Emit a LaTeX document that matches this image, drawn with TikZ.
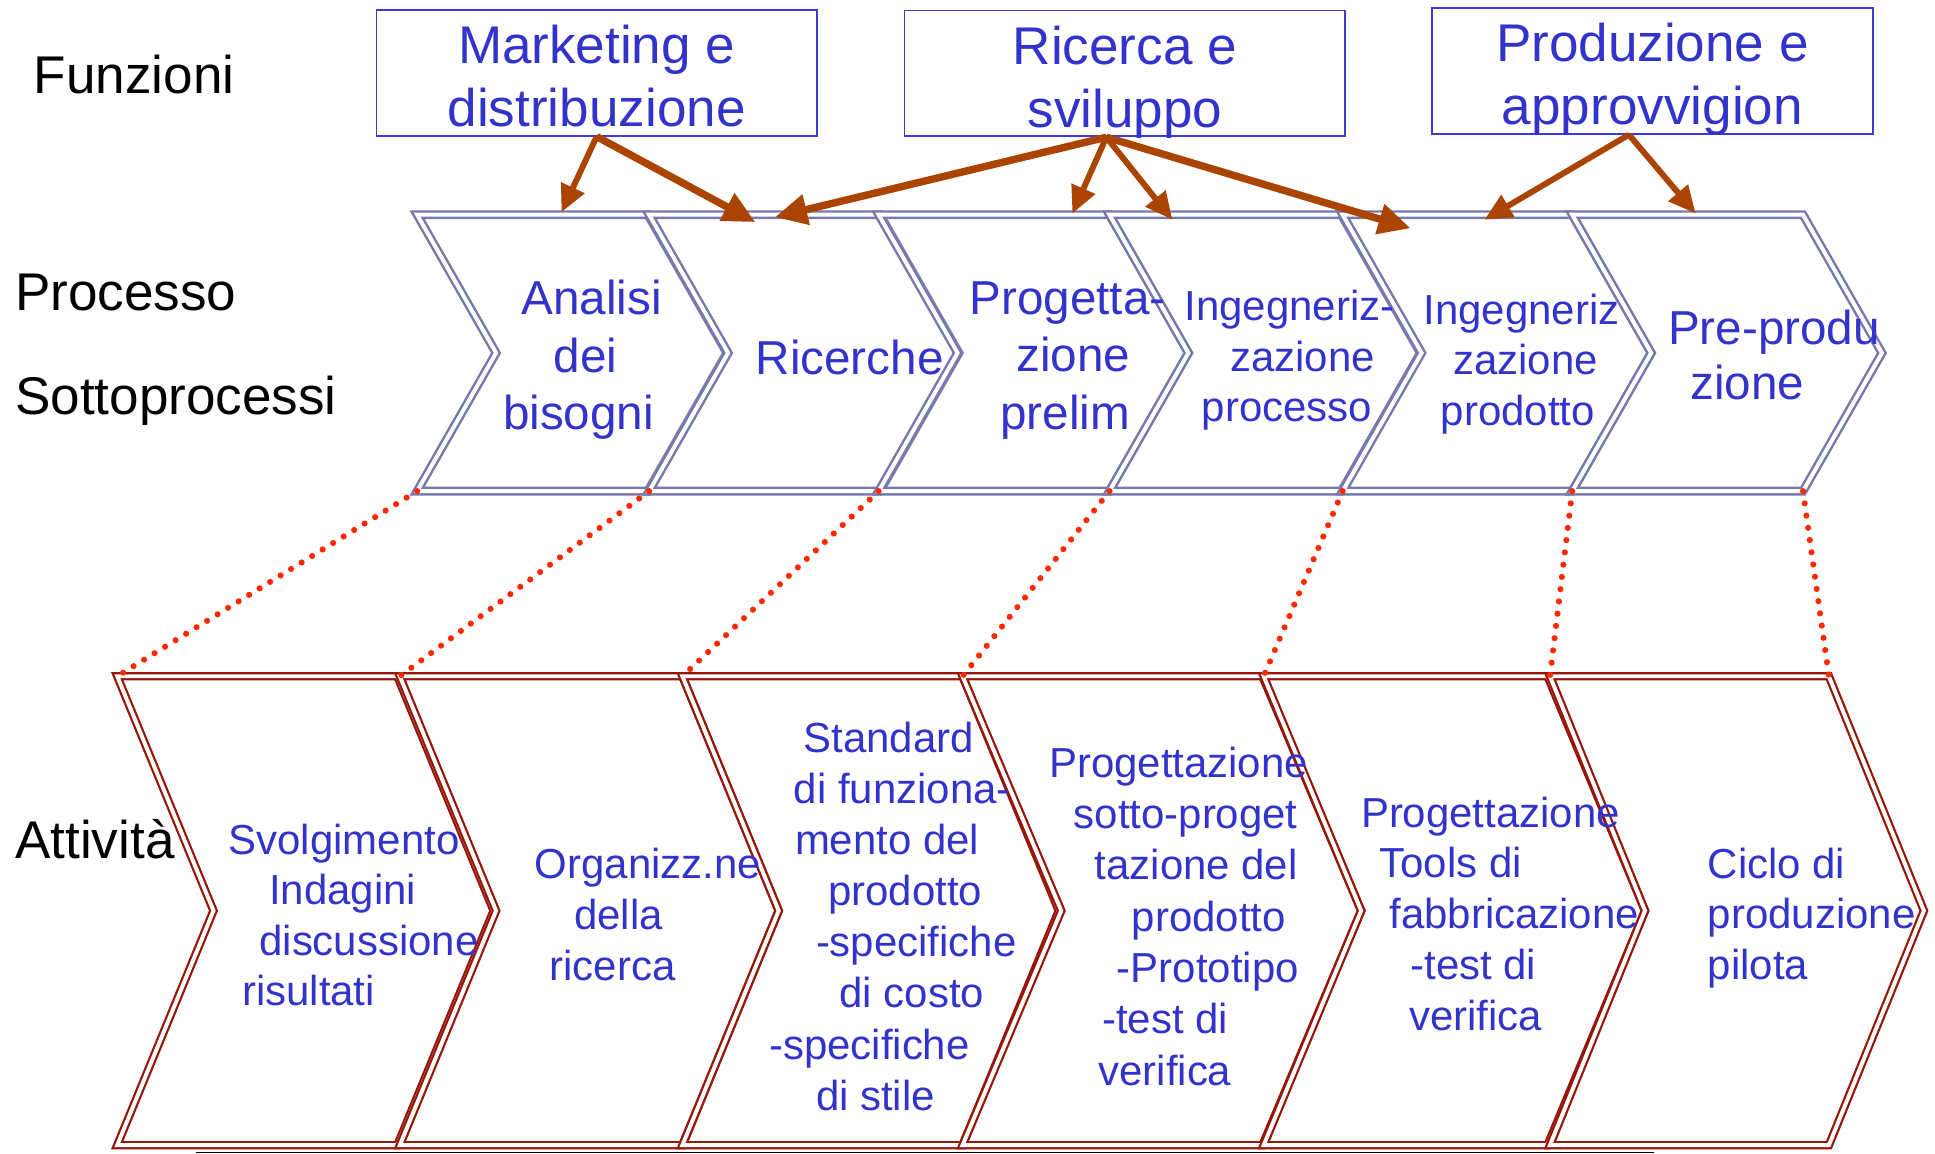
\documentclass[tikz,border=0pt]{standalone}
\usepackage{fontspec}
\setmainfont{Liberation Sans}
\usetikzlibrary{arrows.meta}
\definecolor{testo}{RGB}{51,51,204}
\definecolor{bordo}{RGB}{60,60,220}
\definecolor{grigioblu}{RGB}{120,122,172}
\definecolor{rossoatt}{RGB}{150,22,10}
\definecolor{marrone}{RGB}{170,68,0}
\definecolor{punti}{RGB}{255,40,0}

\newcommand{\chevr}[7]{%
  \coordinate (#1-tl) at (#3,#6);
  \coordinate (#1-tr) at (#3+#4,#6);
  \coordinate (#1-br) at (#3+#4,#7);
  \coordinate (#1-bl) at (#3,#7);
  \draw[#2] (#1-tl) -- (#1-tr) -- (#3+#4+#5,{(#6+#7)/2}) -- (#1-br) -- (#1-bl) -- (#3+#5,{(#6+#7)/2}) -- cycle;
}

\begin{document}
\begin{tikzpicture}[x=0.5pt,y=-0.5pt]\tikzstyle{every node}+=[inner sep=0pt]
  \tikzstyle{funz}=[draw=bordo, line width=0.7pt, minimum width=178.5pt, minimum height=51pt]
  \tikzstyle{funztxt}=[text=testo, align=center, font=\fontsize{21.5}{25.5}\selectfont]
  \tikzstyle{etich}=[anchor=west, font=\fontsize{21.5}{25}\selectfont]
  \tikzstyle{procline}=[draw=grigioblu, line width=1pt, double=white, double distance=1.6pt]
  \tikzstyle{attline}=[draw=rossoatt, line width=0.9pt, double=white, double distance=1.6pt]
  \tikzstyle{txt}=[text=testo, align=left]
  \tikzstyle{fr}=[draw=marrone, line width=2.4pt, -{Triangle[length=11pt,width=10pt]}]
  \tikzstyle{frg}=[fr, line width=3pt, -{Triangle[length=13pt,width=12pt]}]
  \tikzstyle{puntini}=[draw=punti, line width=2.5pt, line cap=round, dash pattern=on 0pt off 5pt]
  \useasboundingbox (0,0) rectangle (1568,935);

  \node[etich] (funzioni) at (27,60) {Funzioni};
  \node[etich] (processo) at (12,237) {Processo};
  \node[etich] (sottoproc) at (12,325) {Sottoprocessi};
  \node[etich] (attivita) at (12,680) {Attività};

  \node[funz] (mkt) at (483.5,59) {};
  \node[funz] (ric) at (911.5,59.5) {};
  \node[funz] (prod) at (1339,57.5) {};
  \node[funztxt] (mkt-txt) at (483.5,61.5) {Marketing e\\distribuzione};
  \node[funztxt] (ric-txt) at (911.5,67) {Ricerca e\\sviluppo};
  \node[funztxt] (prod-txt) at (1339,64) {Produzione e\\approvvigion};

  \chevr{analisi}{procline}{338}{187}{64}{174}{398}
  \chevr{ricerche}{procline}{526}{187}{64}{174}{398}
  \chevr{prelim}{procline}{712}{187}{64}{174}{398}
  \chevr{ingproc}{procline}{899}{188}{64}{174}{398}
  \chevr{ingprod}{procline}{1088}{186}{64}{174}{398}
  \chevr{preprod}{procline}{1274}{187}{64}{174}{398}

  \chevr{svolg}{attline}{95}{227}{78}{548}{928}
  \chevr{organ}{attline}{324}{229}{78}{548}{928}
  \chevr{standard}{attline}{553}{227}{78}{548}{928}
  \chevr{sottoprog}{attline}{780}{243}{80}{548}{928}
  \chevr{tools}{attline}{1024}{230}{79}{548}{928}
  \chevr{pilota}{attline}{1256}{226}{77}{548}{928}

  \node[txt, font=\fontsize{19.3}{23.3}\selectfont] (t-analisi) at (472,291.5) {\hspace*{7.5pt}Analisi\\\hspace*{20.5pt}dei\\bisogni};
  \node[txt, font=\fontsize{19.3}{23.3}\selectfont] (t-ricerche) at (688.5,290) {Ricerche};
  \node[txt, font=\fontsize{19.3}{23.3}\selectfont] (t-prelim) at (865,292) {Progetta-\\\hspace*{19pt}zione\\\hspace*{12.5pt}prelim};
  \node[txt, font=\fontsize{17}{20.5}\selectfont] (t-ingproc) at (1045,292) {Ingegneriz-\\\hspace*{18.5pt}zazione\\\hspace*{7pt}processo};
  \node[txt, font=\fontsize{17}{20.5}\selectfont] (t-ingprod) at (1233,295) {Ingegneriz\\\hspace*{12pt}zazione\\\hspace*{7pt}prodotto};
  \node[txt, font=\fontsize{19.3}{22.5}\selectfont] (t-preprod) at (1437.5,287.5) {Pre-produ\\\hspace*{9pt}zione};

  \node[txt, font=\fontsize{17}{20.5}\selectfont] (t-svolg) at (286.5,741.5) {Svolgimento\\\hspace*{16.5pt}Indagini\\\hspace*{12.5pt}discussione\\\hspace*{5.5pt}risultati};
  \node[txt, font=\fontsize{17}{20.5}\selectfont] (t-organ) at (525,741) {Organizz.ne\\\hspace*{16pt}della\\\hspace*{6pt}ricerca};
  \node[txt, font=\fontsize{17}{20.7}\selectfont] (t-standard) at (723.5,742.5) {\hspace*{14pt}Standard\\\hspace*{10pt}di funziona-\\\hspace*{10.5pt}mento del\\\hspace*{24pt}prodotto\\\hspace*{19pt}-specifiche\\\hspace*{28.5pt}di costo\\-specifiche\\\hspace*{19pt}di stile};
  \node[txt, font=\fontsize{17}{20.8}\selectfont] (t-sottoprog) at (955,742.5) {Progettazione\\\hspace*{10pt}sotto-proget\\\hspace*{18.5pt}tazione del\\\hspace*{33.5pt}prodotto\\\hspace*{27.5pt}-Prototipo\\\hspace*{21.5pt}-test di\\\hspace*{20pt}verifica};
  \node[txt, font=\fontsize{17}{20.6}\selectfont] (t-tools) at (1215.5,740.5) {Progettazione\\\hspace*{7.5pt}Tools di\\\hspace*{11.5pt}fabbricazione\\\hspace*{20pt}-test di\\\hspace*{19.5pt}verifica};
  \node[txt, font=\fontsize{17}{20.5}\selectfont] (t-pilota) at (1468,744) {Ciclo di\\produzione\\pilota};

  \coordinate (f-analisi) at (455,172);
  \coordinate (f-ricerche-a) at (612,180);
  \coordinate (f-ricerche-b) at (628,176);
  \coordinate (f-prelim) at (869,173);
  \coordinate (f-ingproc) at (950,178);
  \coordinate (f-ingprod-a) at (1143,185);
  \coordinate (f-ingprod-b) at (1203,178);
  \coordinate (f-preprod) at (1374,173);

  \draw[fr] (mkt.south) -- (f-analisi);
  \draw[frg] (mkt.south) -- (f-ricerche-a);
  \draw[frg] ([xshift=-7.5pt]ric.south) -- (f-ricerche-b);
  \draw[fr] ([xshift=-7.5pt]ric.south) -- (f-prelim);
  \draw[fr] ([xshift=-7.5pt]ric.south) -- (f-ingproc);
  \draw[frg] ([xshift=-7.5pt]ric.south) -- (f-ingprod-a);
  \draw[fr] ([xshift=-9.5pt]prod.south) -- (f-ingprod-b);
  \draw[fr] ([xshift=-9.5pt]prod.south) -- (f-preprod);

  \draw[puntini] (analisi-bl) -- (svolg-tl);
  \draw[puntini] (ricerche-bl) -- (organ-tl);
  \draw[puntini] (prelim-bl) -- (standard-tl);
  \draw[puntini] (ingproc-bl) -- (sottoprog-tl);
  \draw[puntini] (ingprod-bl) -- (tools-tl);
  \draw[puntini] (preprod-bl) -- (pilota-tl);
  \draw[puntini] (preprod-br) -- (pilota-tr);

  \coordinate (base-a) at (159,934);
  \coordinate (base-b) at (1340,934);
  \draw[line width=0.6pt] (base-a) -- (base-b);
\end{tikzpicture}
\end{document}
